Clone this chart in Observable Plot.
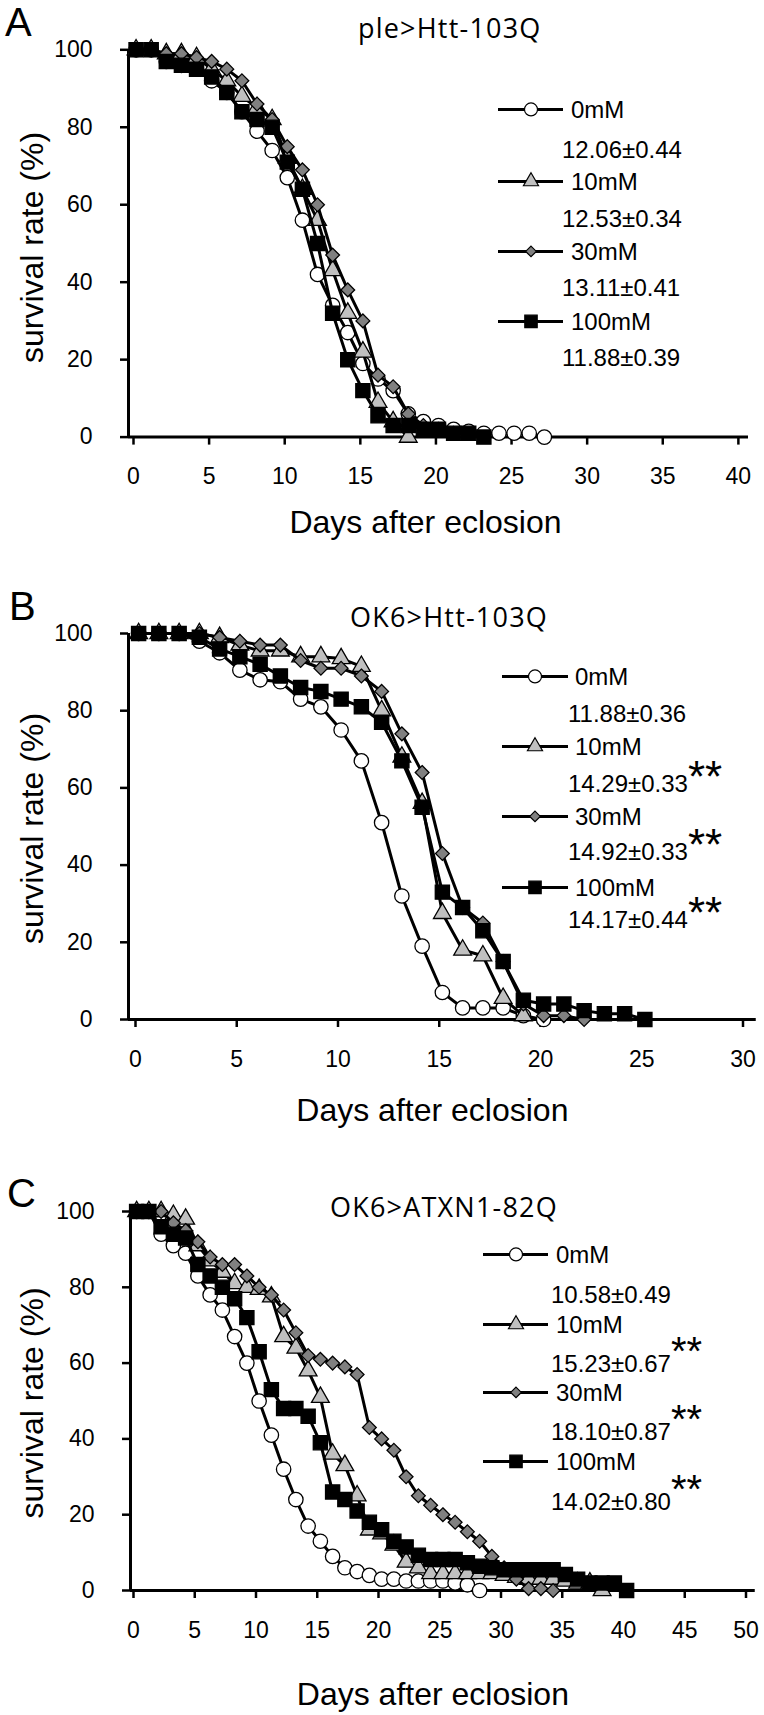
<!DOCTYPE html>
<html><head><meta charset="utf-8">
<script src="https://cdn.jsdelivr.net/npm/d3@7"></script>
<script src="https://cdn.jsdelivr.net/npm/@observablehq/plot@0.6"></script>
<style>
body{margin:0;background:#fff;}
#root{position:relative;width:764px;height:1715px;background:#fff;overflow:hidden}
#root svg{position:absolute;left:0;}
</style></head><body><div id="root"></div>
<script>
// ---------- data ----------
const series = ["0mM", "10mM", "30mM", "100mM"];
const yTicks = [0, 20, 40, 60, 80, 100];
const xTicksA = [0, 5, 10, 15, 20, 25, 30, 35, 40];
const xTicksB = [0, 5, 10, 15, 20, 25, 30];
const xTicksC = [0, 5, 10, 15, 20, 25, 30, 35, 40, 45, 50];

const titleA = "ple>Htt-103Q";
const titleB = "OK6>Htt-103Q";
const titleC = "OK6>ATXN1-82Q";
const xLabel = "Days after eclosion";
const yLabel = "survival rate (%)";

const daysA = [0.5,1.5,2.5,3.5,4.5,5.5,6.5,7.5,8.5,9.5,10.5,11.5,12.5,13.5,14.5,15.5,16.5,17.5,18.5,19.5,20.5,21.5,22.5,23.5,24.5,25.5,26.5,27.5];
const daysB = [0.5,1.5,2.5,3.5,4.5,5.5,6.5,7.5,8.5,9.5,10.5,11.5,12.5,13.5,14.5,15.5,16.5,17.5,18.5,19.5,20.5,21.5,22.5,23.5,24.5,25.5];
const daysC = [0.5,1.5,2.5,3.5,4.5,5.5,6.5,7.5,8.5,9.5,10.5,11.5,12.5,13.5,14.5,15.5,16.5,17.5,18.5,19.5,20.5,21.5,22.5,23.5,24.5,25.5,26.5,27.5,28.5,29.5,30.5,31.5,32.5,33.5,34.5,35.5,36.5,37.5,38.5,39.5,40.5];

// Panel A: ple>Htt-103Q
const A_0mM   = [100,100,97,96,95,92,89,84,79,74,67,56,42,34,27,19,15,12,6,4,3,2,1.5,1,1,1,1,0];
const A_10mM  = [100,100,99,99,98,95,92,88,85,82,72,64,56,43,32,22,9,4,0];
const A_30mM  = [100,100,99,99,98,97,95,92,86,82,75,69,60,47,38,30,16,13,6,3,2,1];
const A_100mM = [100,100,97,96,95,93,89,84,82,80,71,64,50,32,20,12,5.5,3,3,2,2,1,1,0];
const A_stats = ["12.06±0.44", "12.53±0.34", "13.11±0.41", "11.88±0.39"];
const A_sig   = ["", "", "", ""];

// Panel B: OK6>Htt-103Q
const B_0mM   = [100,100,100,98,95,90.5,88,87.5,83,81,75,67,51,32,19,7,3,3,3,1,0];
const B_10mM  = [100,100,100,100,99,97,95.5,95.5,94,94,93.5,91.5,80,68,56,27.5,18,16.5,5.5,1];
const B_30mM  = [100,100,100,100,99,98,97,97,93,91,91,89,85,74,64,43,29,25,15,4,1,1,0];
const B_100mM = [100,100,100,99,96,94,92,89,86,85,83,81,77,67,55,33,29,23,15,5,4,4,2.3,1.5,1.5,0];
const B_stats = ["11.88±0.36", "14.29±0.33", "14.92±0.33", "14.17±0.44"];
const B_sig   = ["", "**", "**", "**"];

// Panel C: OK6>ATXN1-82Q
const C_0mM   = [100,100,94,91,89,83,78,74,67,60,50,41,32,24,17,13,9,6,5,4,3,3,2.5,2.5,2.5,2.5,2,1.5,0];
const C_10mM  = [100,100,100,99,98,91,87,84,81,80,79.5,77.5,67,64,58,51,36,33,25,16,15,12,7.5,6,4.5,4.5,4.5,4.5,4.5,4.5,4,3.5,3,3,3,2.5,2,2,0];
const C_30mM  = [100,100,100,97,95,92,88,86,86,83,80,78,74,68,62,61,60,59,57,43,40,37,30,25,22.5,20,18,15.5,13,9,6,3,0.5,0.5,0];
const C_100mM = [100,100,96,94,93,86,83,80,77,72,63,53,48,48,46,39,26,24,21,18,16,13,11.5,9.3,8.2,8.2,8.2,7.3,6.4,6,5.5,5.5,5.5,5.5,5.5,4.2,3,2,2,2,0];
const C_stats = ["10.58±0.49", "15.23±0.67", "18.10±0.87", "14.02±0.80"];
const C_sig   = ["", "**", "**", "**"];

// ---------- styles ----------
const SANS = "'Liberation Sans', Arial, sans-serif";
const TITLEFONT = "'Open Sans', 'Noto Sans', sans-serif";
const sty = {
  "0mM":   {symbol: "circle",   d3sym: d3.symbolCircle,   fill: "#ffffff", r: 7.2, lr: 6.5},
  "10mM":  {symbol: "triangle", d3sym: d3.symbolTriangle, fill: "#c0c0c0", r: 6.6, lr: 5.6},
  "30mM":  {symbol: "diamond2", d3sym: d3.symbolDiamond2, fill: "#808080", r: 6.2, lr: 4.8},
  "100mM": {symbol: "square",   d3sym: d3.symbolSquare,   fill: "#000000", r: 8,   lr: 7}
};

const root = document.getElementById("root");

function makePanel(cfg) {
  const marks = [
    Plot.ruleY([0], {strokeWidth: 3}),
    Plot.ruleX([0], {y1: 0, y2: 100, strokeWidth: 3}),
    Plot.axisY({ticks: yTicks, tickSize: 8, tickPadding: 28, fontSize: 23, strokeWidth: 2.5, label: null}),
    Plot.axisX({ticks: cfg.xTicks, tickSize: 8, tickPadding: 23, fontSize: 23, strokeWidth: 2.5, label: null, dx: cfg.tickDx})
  ];
  series.forEach((s, i) => {
    const data = cfg.values[i].map((v, j) => ({day: cfg.days[j], v}));
    marks.push(Plot.line(data, {x: "day", y: "v", stroke: "black", strokeWidth: 3}));
    marks.push(Plot.dot(data, {x: "day", y: "v", symbol: sty[s].symbol, r: sty[s].r, fill: sty[s].fill, stroke: "black", strokeWidth: 1.3}));
  });
  marks.push(Plot.text([xLabel], {text: d => d, frameAnchor: "bottom", textAnchor: "middle", lineAnchor: "top", dy: cfg.xLabelDy, dx: cfg.xLabelDx, fontSize: 32}));
  marks.push(Plot.text([yLabel], {text: d => d, frameAnchor: "left", textAnchor: "middle", rotate: -90, lineAnchor: "middle", dx: cfg.yLabelDx, dy: cfg.yLabelDy, fontSize: 32}));

  const svg = Plot.plot({
    width: 764, height: cfg.height,
    marginTop: cfg.mt, marginBottom: cfg.mb, marginLeft: cfg.ml, marginRight: cfg.mr,
    x: {domain: cfg.xDomain},
    y: {domain: [0, 100]},
    style: {fontFamily: SANS, background: "white", overflow: "visible", color: "black"},
    marks
  });
  svg.style.top = cfg.top + "px";
  const g = d3.select(svg).append("g").attr("text-anchor", "start");
  // panel letter
  g.append("text").attr("x", cfg.letterX).attr("y", cfg.letterY).attr("text-anchor", "start")
    .attr("font-family", SANS).attr("font-size", 40).text(cfg.letter);
  // title
  g.append("text").attr("x", cfg.titleX).attr("y", cfg.titleY).attr("text-anchor", "start")
    .attr("font-family", TITLEFONT).attr("font-size", 27).attr("letter-spacing", 1.2).text(cfg.title);
  // legend
  const L = cfg.legend;
  series.forEach((s, i) => {
    const yc = L.labelY[i] - 8.6;
    g.append("line").attr("x1", L.x1).attr("x2", L.x2).attr("y1", yc).attr("y2", yc)
      .attr("stroke", "black").attr("stroke-width", 3);
    const size = Math.PI * sty[s].lr * sty[s].lr;
    g.append("path").attr("d", d3.symbol(sty[s].d3sym, size)())
      .attr("transform", `translate(${L.mx},${yc})`)
      .attr("fill", sty[s].fill).attr("stroke", "black").attr("stroke-width", 1.2);
    g.append("text").attr("x", L.labelX).attr("y", L.labelY[i]).attr("text-anchor", "start")
      .attr("font-family", SANS).attr("font-size", 24).text(s);
    const t = g.append("text").attr("x", L.valueX).attr("y", L.valueY[i]).attr("text-anchor", "start")
      .attr("font-family", SANS).attr("font-size", 24);
    t.append("tspan").text(cfg.stats[i]);
    if (cfg.sig[i]) {
      t.append("tspan").attr("font-size", L.starSize).attr("dy", L.starDy).text(cfg.sig[i]);
    }
  });
  root.appendChild(svg);
}

makePanel({
  top: 0, height: 560, mt: 49.3, mb: 123.4, ml: 128, mr: 16,
  xDomain: [0, 41], xTicks: xTicksA, tickDx: 5,
  xLabelDy: 73, xLabelDx: -13, yLabelDx: -95.5, yLabelDy: 4,
  days: daysA, values: [A_0mM, A_10mM, A_30mM, A_100mM],
  stats: A_stats, sig: A_sig,
  letter: "A", letterX: 5, letterY: 36,
  title: titleA, titleX: 358, titleY: 38,
  legend: {x1: 498, x2: 563, mx: 531, labelX: 571, valueX: 562,
    labelY: [118, 190, 260, 330], valueY: [158, 227, 296, 366], starSize: 44, starDy: 0}
});

makePanel({
  top: 560, height: 580, mt: 73, mb: 121, ml: 128, mr: 8.25,
  xDomain: [0, 31], xTicks: xTicksB, tickDx: 7,
  xLabelDy: 79, xLabelDx: -10, yLabelDx: -95.5, yLabelDy: 2,
  days: daysB, values: [B_0mM, B_10mM, B_30mM, B_100mM],
  stats: B_stats, sig: B_sig,
  letter: "B", letterX: 9, letterY: 60,
  title: titleB, titleX: 350, titleY: 67,
  legend: {x1: 502, x2: 568, mx: 535, labelX: 575, valueX: 568,
    labelY: [125, 195, 265, 336], valueY: [162, 232, 300, 368], starSize: 44, starDy: 0}
});

makePanel({
  top: 1140, height: 575, mt: 71, mb: 125, ml: 130, mr: 9.25,
  xDomain: [0, 51], xTicks: xTicksC, tickDx: 3,
  xLabelDy: 92, xLabelDx: -10, yLabelDx: -97.5, yLabelDy: 2,
  days: daysC, values: [C_0mM, C_10mM, C_30mM, C_100mM],
  stats: C_stats, sig: C_sig,
  letter: "C", letterX: 7, letterY: 67,
  title: titleC, titleX: 330, titleY: 77,
  legend: {x1: 483, x2: 548, mx: 516, labelX: 556, valueX: 551,
    labelY: [123, 193, 261, 330], valueY: [163, 232, 300, 370], starSize: 40, starDy: -7}
});
</script>
</body></html>
